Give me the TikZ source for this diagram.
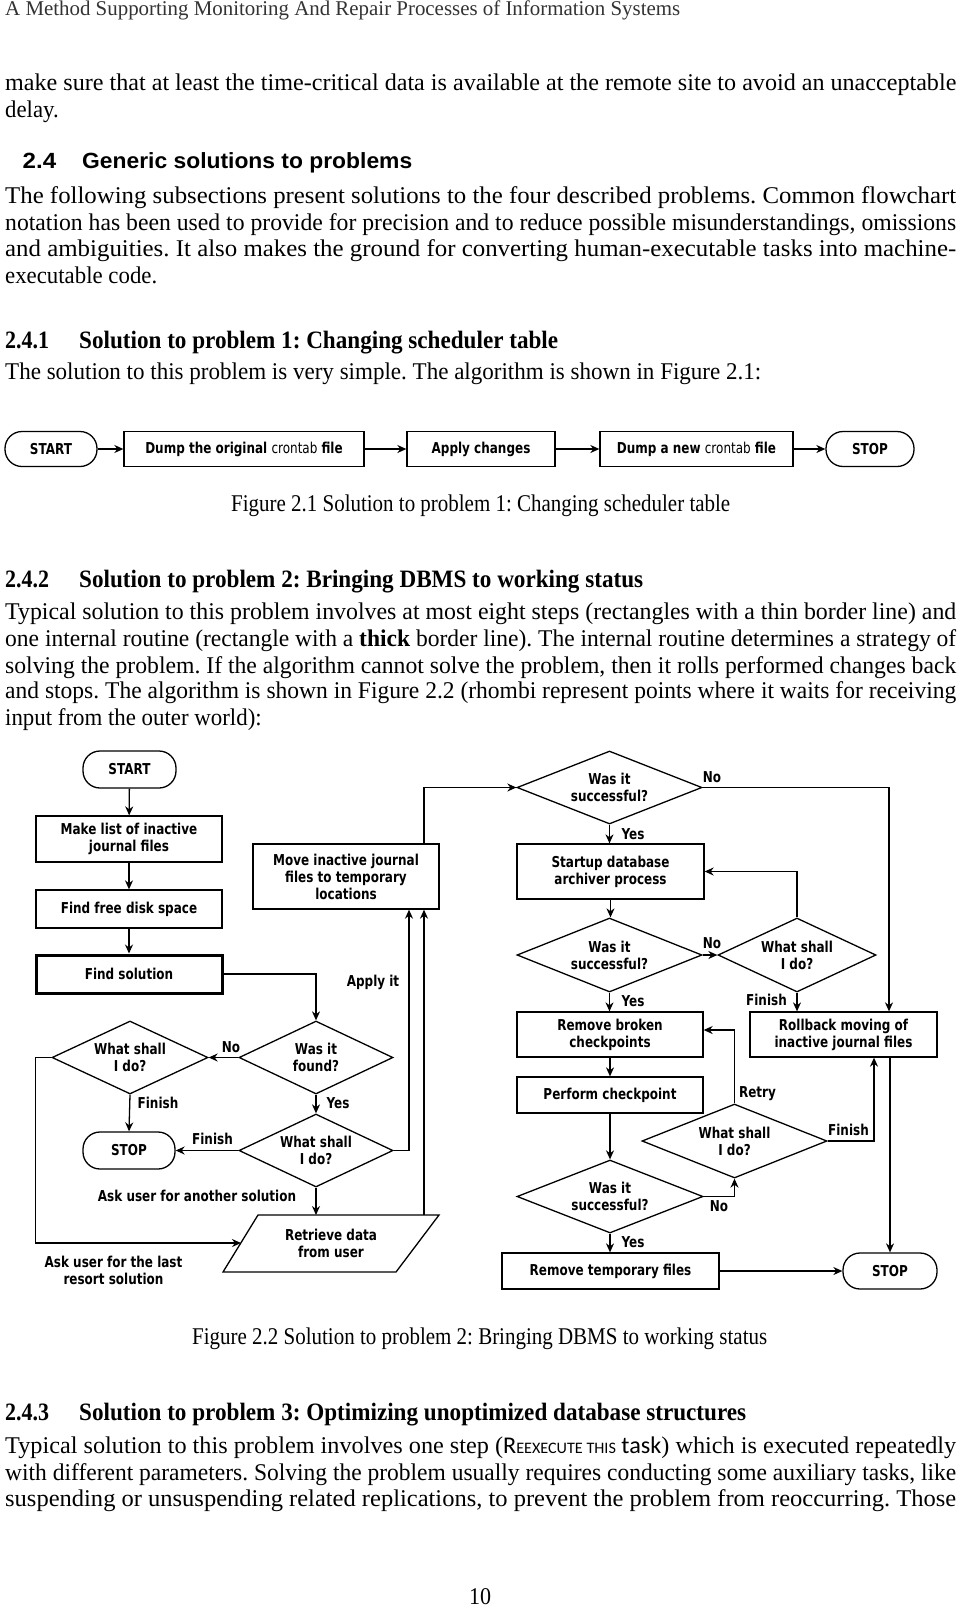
\documentclass[tikz,border=0pt]{standalone}
\usepackage{fontspec}
\setmainfont{Liberation Serif}
\newfontfamily\fcf[FakeStretch=0.8]{DejaVu Sans}
\newfontfamily\hsans{Liberation Sans}
\newfontfamily\calib{Carlito}
\usetikzlibrary{shapes.geometric,arrows.meta}
\newcommand{\fitw}[2]{\resizebox{#1}{\height}{#2}}
\frenchspacing
\begin{document}
\frenchspacing
\begin{tikzpicture}[x=1pt,y=-1pt,
  bt/.style={anchor=west,inner sep=0pt,font=\frenchspacing\fontsize{24}{28}\selectfont,text height=18.5pt,text depth=1.5pt},
  hd/.style={bt,font=\frenchspacing\bfseries\fontsize{25}{29}\selectfont},
  hs/.style={bt,font=\hsans\bfseries\fontsize{22}{26}\selectfont},
  fc/.style={font=\fcf\bfseries\fontsize{15}{17}\selectfont,align=center},
  proc/.style={fc,draw,line width=1.3pt,rectangle,inner sep=2pt},
  term/.style={proc,rounded corners=17pt},
  dec/.style={fc,draw,line width=1.3pt,diamond,aspect=2.5,inner sep=0pt},
  lab/.style={fc,inner sep=0pt},
  arr/.style={line width=1.3pt,-{Stealth[length=9pt,width=8pt]}},
  fl/.style={line width=1.3pt}]
\fill[white] (0,0) rectangle (960,1609);
\useasboundingbox (0,0) rectangle (960,1609);

% ---------- running text ----------
\node[bt,font=\fontsize{21}{24}\selectfont,text=black!80,text height=15pt,text depth=5pt] (hdr) at (5,10) {\fitw{675pt}{A Method Supporting Monitoring And Repair Processes of Information Systems}};
\node[bt] (t1) at (5,82) {\fitw{951pt}{make sure that at least the time-critical data is available at the remote site to avoid an unacceptable}};
\node[bt] (t2) at (5,109) {\fitw{53.5pt}{delay.}};
\node[hs] (h1n) at (22.5,160) {\fitw{33.5pt}{2.4}};
\node[hs] (h1) at (82,160) {\fitw{330pt}{Generic solutions to problems}};
\node[bt] (t3) at (5,195) {\fitw{951pt}{The following subsections present solutions to the four described problems. Common flowchart}};
\node[bt] (t4) at (5,221.5) {\fitw{951pt}{notation has been used to provide for precision and to reduce possible misunderstandings, omissions}};
\node[bt] (t5) at (5,248) {\fitw{951pt}{and ambiguities. It also makes the ground for converting human-executable tasks into machine-}};
\node[bt] (t6) at (5,275) {\fitw{152pt}{executable code.}};
\node[hd] (h2n) at (5,339.5) {\fitw{44pt}{2.4.1}};
\node[hd] (h2) at (79,339.5) {\fitw{479pt}{Solution to problem 1: Changing scheduler table}};
\node[bt] (t7) at (5,371) {\fitw{756pt}{The solution to this problem is very simple. The algorithm is shown in Figure 2.1:}};
\node[bt] (c1) at (231,502.5) {\fitw{499pt}{Figure 2.1 Solution to problem 1: Changing scheduler table}};
\node[hd] (h3n) at (5,578.5) {\fitw{44pt}{2.4.2}};
\node[hd] (h3) at (79,578.5) {\fitw{564pt}{Solution to problem 2: Bringing DBMS to working status}};
\node[bt] (t8) at (5,611) {\fitw{951pt}{Typical solution to this problem involves at most eight steps (rectangles with a thin border line) and}};
\node[bt] (t9) at (5,638) {\fitw{951pt}{one internal routine (rectangle with a \textbf{thick} border line). The internal routine determines a strategy of}};
\node[bt] (t10) at (5,664.5) {\fitw{951pt}{solving the problem. If the algorithm cannot solve the problem, then it rolls performed changes back}};
\node[bt] (t11) at (5,690) {\fitw{951pt}{and stops. The algorithm is shown in Figure 2.2 (rhombi represent points where it waits for receiving}};
\node[bt] (t12) at (5,717) {\fitw{256.5pt}{input from the outer world):}};
\node[bt] (c2) at (192,1336) {\fitw{575pt}{Figure 2.2 Solution to problem 2: Bringing DBMS to working status}};
\node[hd] (h4n) at (5,1412) {\fitw{44pt}{2.4.3}};
\node[hd] (h4) at (79,1412) {\fitw{667pt}{Solution to problem 3: Optimizing unoptimized database structures}};
\node[bt] (t13) at (5,1445) {\fitw{951pt}{Typical solution to this problem involves one step ({\calib R{\fontsize{16}{16}\selectfont EEXECUTE THIS} task}) which is executed repeatedly}};
\node[bt] (t14) at (5,1471.5) {\fitw{951pt}{with different parameters. Solving the problem usually requires conducting some auxiliary tasks, like}};
\node[bt] (t15) at (5,1498) {\fitw{951pt}{suspending or unsuspending related replications, to prevent the problem from reoccurring. Those}};
\node[bt,anchor=center] (pg) at (480,1596) {\fitw{22pt}{10}};

% ---------- Figure 2.1 ----------
\node[term,minimum width=92pt,minimum height=35pt] (a0) at (51,449) {START};
\node[proc,minimum width=240pt,minimum height=35pt] (a1) at (244,449) {Dump the original {\mdseries crontab} file};
\node[proc,minimum width=148pt,minimum height=35pt] (a2) at (481,449) {Apply changes};
\node[proc,minimum width=193pt,minimum height=35pt] (a3) at (696.5,449) {Dump a new {\mdseries crontab} file};
\node[term,minimum width=88pt,minimum height=35pt] (a4) at (870,449) {STOP};
\draw[arr] (a0) -- (a1);
\draw[arr] (a1) -- (a2);
\draw[arr] (a2) -- (a3);
\draw[arr] (a3) -- (a4);

% ---------- Figure 2.2 ----------
\node[term,minimum width=93pt,minimum height=37pt] (st) at (129.5,769.5) {START};
\node[proc,minimum width=186pt,minimum height=46pt] (mk) at (129,839) {Make list of inactive\\journal files};
\node[proc,minimum width=186pt,minimum height=38pt] (ff) at (129,909) {Find free disk space};
\node[proc,line width=3pt,minimum width=186pt,minimum height=38pt] (fs) at (129,974) {Find solution};
\node[proc,minimum width=186pt,minimum height=65pt] (mv) at (346,876.5) {Move inactive journal\\files to temporary\\locations};
\node[dec,minimum width=185pt,minimum height=73pt] (d1) at (609.5,787.5) {Was it\\successful?};
\node[proc,minimum width=187pt,minimum height=55pt] (su) at (610.5,871.5) {Startup database\\archiver process};
\node[dec,minimum width=185pt,minimum height=74pt] (d2) at (609.5,955) {Was it\\successful?};
\node[dec,minimum width=158pt,minimum height=74pt] (d3) at (797,955) {What shall\\I do?};
\node[proc,minimum width=186pt,minimum height=45pt] (rb) at (610,1034.5) {Remove broken\\checkpoints};
\node[proc,minimum width=186pt,minimum height=36pt] (pc) at (610,1095) {Perform checkpoint};
\node[proc,minimum width=187pt,minimum height=45pt] (rl) at (843.5,1034.5) {Rollback moving of\\inactive journal files};
\node[dec,minimum width=185pt,minimum height=74pt] (d5) at (734.5,1141) {What shall\\I do?};
\node[dec,minimum width=186pt,minimum height=73pt] (d6) at (610,1196.5) {Was it\\successful?};
\node[proc,minimum width=217pt,minimum height=36pt] (rt) at (610.5,1271) {Remove temporary files};
\node[term,minimum width=94pt,minimum height=36pt] (sp2) at (890,1271) {STOP};
\node[dec,minimum width=154pt,minimum height=73pt] (wf) at (316,1057.5) {Was it\\found?};
\node[dec,minimum width=156pt,minimum height=73pt] (ws1) at (130,1057.5) {What shall\\I do?};
\node[term,minimum width=92pt,minimum height=37pt] (sp1) at (129,1150.5) {STOP};
\node[dec,minimum width=154pt,minimum height=73pt] (ws2) at (316,1150.5) {What shall\\I do?};
\draw[fl] (258,1215) -- (439,1215) -- (396,1272) -- (223,1272) -- cycle;
\node[fc] (rd) at (331,1243.5) {Retrieve data\\from user};
\coordinate (rdt1) at (316,1215);
\coordinate (rdt2) at (424,1215);
\coordinate (rdl) at (241,1243);

\draw[arr] (st) -- (mk);
\draw[arr] (mk) -- (ff);
\draw[arr] (ff) -- (fs);
\draw[arr] (fs.east) -| (wf.north);
\draw[arr] (wf.west) -- (ws1.east);
\draw[arr] (ws1.south) -- (sp1.north);
\draw[arr] (ws1.west) -- ++(-16,0) |- (rdl);
\draw[arr] (wf.south) -- (ws2.north);
\draw[arr] (ws2.west) -- (sp1.east);
\draw[arr] (ws2.east) -| ([xshift=63pt]mv.south);
\draw[arr] (ws2.south) -- (rdt1);
\draw[arr] (rdt2) -- (rdt2 |- mv.south);
\draw[arr] ([xshift=78pt]mv.north) |- (d1.west);
\draw[arr] (d1.east) -| ([xshift=45.5pt]rl.north);
\draw[arr] (d1.south) -- (d1.south |- su.north);
\draw[arr] (su.south) -- (su.south |- d2.north);
\draw[arr] (d2.east) -- (d3.west);
\draw[arr] (d3.north) |- (su.east);
\draw[arr] (d3.south) -- (d3.south |- rl.north);
\draw[arr] (d2.south) -- (d2.south |- rb.north);
\draw[arr] (rb) -- (pc);
\draw[arr] (pc.south) -- (pc.south |- d6.north);
\draw[arr] (d5.north) |- ([yshift=4.5pt]rb.east);
\draw[arr] (d5.east) -| ([xshift=30.5pt]rl.south);
\draw[arr] (d6.east) -| (d5.south);
\draw[arr] (d6.south) -- (d6.south |- rt.north);
\draw[arr] (rt) -- (sp2);
\draw[arr] (sp2.north |- rl.south) -- (sp2.north);

% labels
\node[lab] (l1) at (712,777) {No};
\node[lab] (l2) at (633,834) {Yes};
\node[lab] (l3) at (712,943) {No};
\node[lab] (l4) at (633,1001) {Yes};
\node[lab] (l5) at (766.5,999.5) {Finish};
\node[lab] (l6) at (757.5,1093.5) {Retry};
\node[lab] (l7) at (848.5,1130) {Finish};
\node[lab] (l8) at (719,1206) {No};
\node[lab] (l9) at (633,1242.5) {Yes};
\node[lab] (l10) at (373,982) {Apply it};
\node[lab] (l11) at (231,1047) {No};
\node[lab] (l12) at (158,1103) {Finish};
\node[lab] (l13) at (338,1103) {Yes};
\node[lab] (l14) at (212.5,1139) {Finish};
\node[lab] (l15) at (197,1196) {Ask user for another solution};
\node[lab] (l16) at (113.5,1270) {Ask user for the last\\resort solution};
\end{tikzpicture}
\end{document}
